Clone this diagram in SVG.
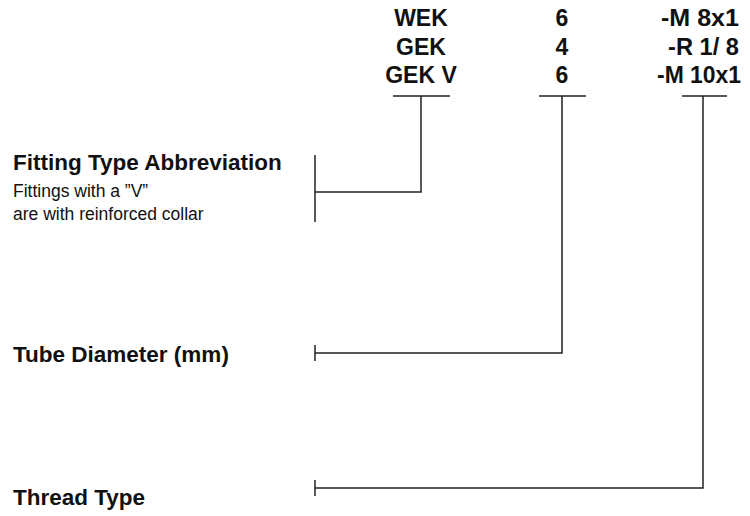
<svg xmlns="http://www.w3.org/2000/svg" width="750" height="516" viewBox="0 0 750 516">
<style>
.b{font-family:"Liberation Sans",Arial,sans-serif;font-weight:bold;fill:#111;}
.h{font-size:23px;}
.l{font-size:22.5px;}
.s{font-family:"Liberation Sans",Arial,sans-serif;font-size:17.5px;fill:#111;}
.ln{stroke:#222;stroke-width:1.5;fill:none;}
</style>
<rect width="750" height="516" fill="#fff"/>
<g id="code-type">
<text class="b h" x="421" y="26" text-anchor="middle">WEK</text>
<text class="b h" x="421" y="55" text-anchor="middle">GEK</text>
<text class="b h" x="421" y="83" text-anchor="middle">GEK V</text>
</g>
<g id="code-diameter">
<text class="b h" x="562" y="26" text-anchor="middle">6</text>
<text class="b h" x="562" y="55" text-anchor="middle">4</text>
<text class="b h" x="562" y="83" text-anchor="middle">6</text>
</g>
<g id="code-thread">
<text class="b h" x="661" y="26" textLength="78" lengthAdjust="spacingAndGlyphs">-M 8x1</text>
<text class="b h" x="668" y="55" textLength="71" lengthAdjust="spacingAndGlyphs">-R 1/ 8</text>
<text class="b h" x="657" y="83" textLength="84" lengthAdjust="spacingAndGlyphs">-M 10x1</text>
</g>
<g id="label-type">
<text class="b l" x="13" y="170">Fitting Type Abbreviation</text>
<text class="s" x="13" y="197">Fittings with a ”V”</text>
<text class="s" x="13" y="220">are with reinforced collar</text>
</g>
<g id="label-diameter">
<text class="b l" x="13" y="362">Tube Diameter (mm)</text>
</g>
<g id="label-thread">
<text class="b l" x="13" y="505">Thread Type</text>
</g>
<g id="connectors">
<path class="ln" d="M393 96H450M421 96V192H315M315 155V222"/>
<path class="ln" d="M539 96H586M562 96V353H315M315 345V361"/>
<path class="ln" d="M682 96H727M703 96V488H315M315 480V496"/>
</g>
</svg>
